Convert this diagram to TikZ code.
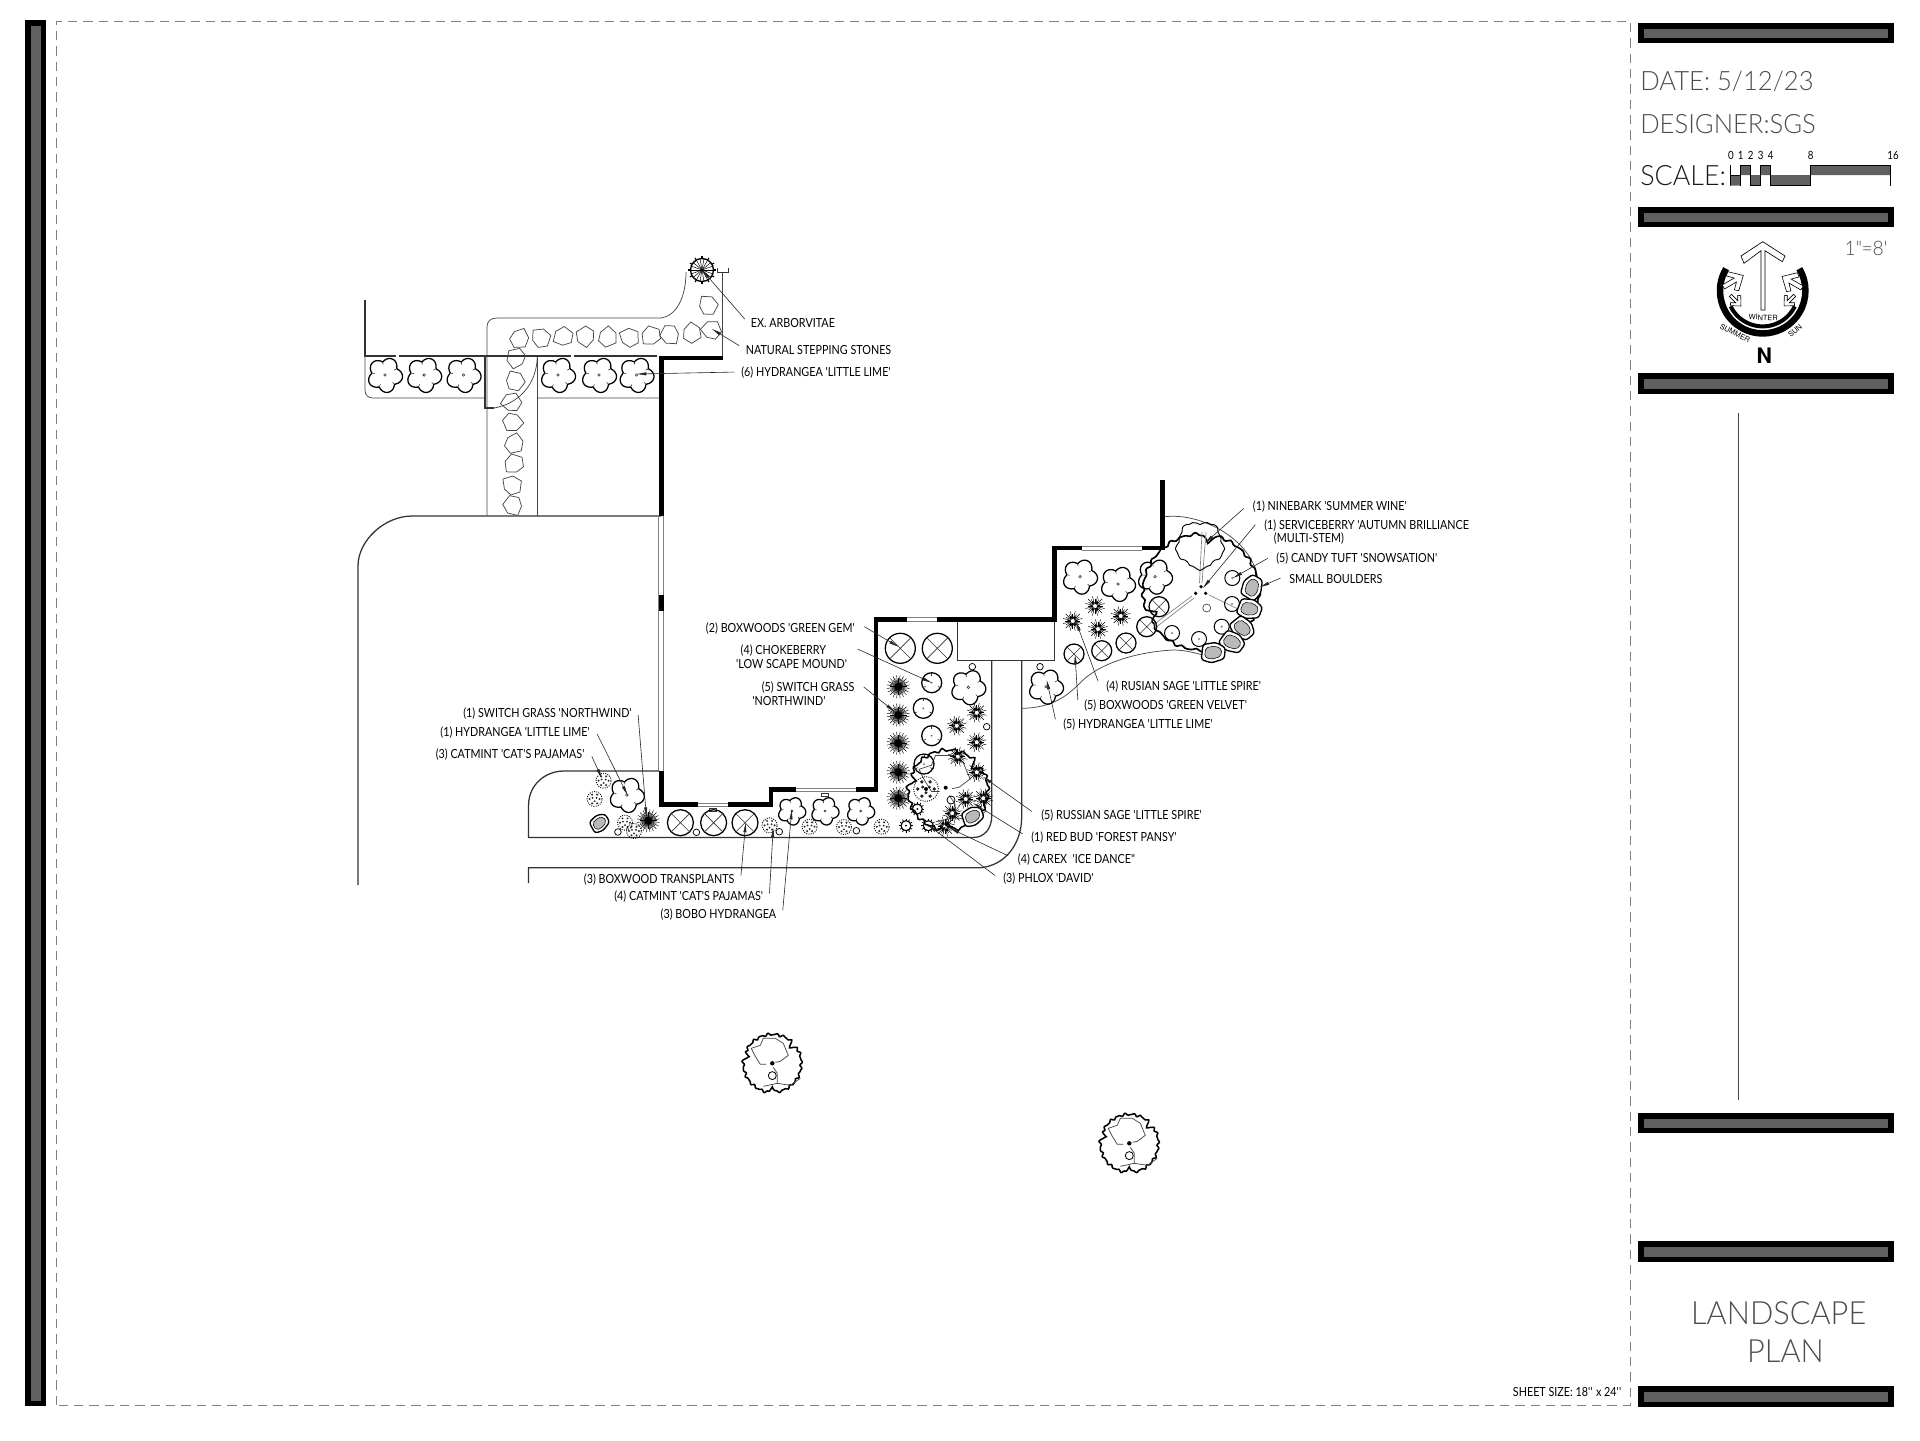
\documentclass[tikz,border=0pt]{standalone}
\usepackage{fontspec}
\usetikzlibrary{arrows.meta}
\newfontfamily\planfont[FakeStretch=0.86]{Lato}
\newfontfamily\titlefont[UprightFont=* Light,FakeStretch=0.96]{Lato}
\newfontfamily\symbolfont{TeX Gyre Heros}
\newcommand{\lblfont}{\planfont\fontsize{9.4pt}{11pt}\selectfont}
\definecolor{barfill}{RGB}{96,96,96}
\definecolor{inkgray}{RGB}{70,70,70}
\tikzset{
  plantline/.style={line width=0.95pt,black},
  thinline/.style={line width=0.45pt,black!80},
  walkline/.style={line width=0.55pt,inkgray},
  edgeline/.style={line width=0.95pt,black!80},
  wallline/.style={line width=3.4pt,black},
  glassline/.style={line width=0.5pt,gray},
  leader/.style={line width=0.45pt,black!85,shorten <=2pt,-{Triangle[length=7pt,width=2.2pt]}},
  stone/.pic={\draw[walkline] (-7,-8) -- (4,-9.5) -- (9,-1) -- (6,9) -- (-4,7.5) -- (-10,1) -- cycle;},
  hydrangea/.pic={
    \draw[plantline] plot[smooth cycle,samples=72,domain=0:355] (\x:{13.2+4.4*abs(cos(2.5*\x+20))});
    \foreach \a in {28,100,172,244,316} \draw[thinline] (\a:13) -- (\a:10.5);
    \draw[thinline] (0,0) circle (1.3);},
  boxwood/.pic={
    \draw[plantline] (0,0) circle (10);
    \draw[thinline] (45:10) -- (225:10) (135:10) -- (315:10);},
  chokeberry/.pic={
    \draw[plantline] (0,0) circle (10);
    \foreach \a in {90,210,330} \draw[thinline] (\a:10) -- (\a:7);
    \fill[black!60] (0,0) circle (1);},
  candytuft/.pic={
    \draw[line width=0.75pt] (0,0) circle (7.5);
    \fill[black!50] (0,0) circle (1.2);},
  switchgrass/.pic={
    \foreach \a [count=\i] in {0,9,...,351} \draw[line width=0.35pt] (0,0) -- (\a:{11.5-3*mod(\i,2)});
    \fill (0,0) circle (4);},
  sage/.pic={
    \foreach \a [count=\i] in {0,15,...,345} \draw[line width=0.35pt] (\a:2) -- (\a:{10-2.5*mod(\i,2)});
    \foreach \a in {0,60,...,300} \fill (\a:4) circle (1.5);
    \fill[white] (0,0) circle (1);},
  catmint/.pic={
    \draw[line width=0.7pt,densely dotted] (0,0) circle (7.5);
    \foreach \a in {0,60,...,300} \fill[black!85] (\a:5) circle (1.1);
    \foreach \a in {30,150,270} \fill[black!85] (\a:2.3) circle (1);},
  phlox/.pic={
    \draw[line width=0.85pt] (0,0) circle (5);
    \foreach \a in {0,30,...,330} \draw[line width=0.6pt] (\a:5) -- (\a:7);
    \fill (0,0) circle (1);},
  boulder/.pic={
    \draw[line width=1pt,fill=white,rounded corners=2] (-12,-6) -- (-2,-10) -- (11,-7) -- (13,4) -- (4,10) -- (-9,9) -- cycle;
    \draw[line width=0.4pt,fill=gray!55,rounded corners=1.5] (-8.5,-3.5) -- (-2,-6.5) -- (7.5,-4.5) -- (9.5,2.5) -- (3,6.5) -- (-6.5,5.5) -- cycle;},
  ringmark/.pic={\draw[line width=0.55pt] (0,0) circle (3.3);},
  shadetree/.pic={
    \draw[line width=1.15pt] plot[samples=180,domain=0:358] (\x:{29+0.9*sin(23*\x)+0.5*sin(37*\x+40)-6*max(0,1-abs(\x-270)/7)-5*max(0,1-abs(\x-164)/8)-6*max(0,1-abs(\x-41)/8)}) -- cycle;
    \draw[walkline] (-6,-1) -- (-12,-1) -- (-17,7) -- (-21,15) -- (-12,18) -- (-9,25) -- (3,25) -- (11,20) -- (16,8) -- (8,2) -- (3,1);
    \draw[walkline] (1,-4) -- (5,-10) -- (5,-20) -- (-9,-23) (5,-20) -- (18,-22) -- (28,-15);},
  sunarrow/.pic={\draw[line width=0.45pt,fill=white] (-15,-2) -- (-3,-2) -- (-8,-7) -- (-5,-9.5) -- (5,0) -- (-5,9.5) -- (-8,7) -- (-3,2) -- (-15,2) -- cycle;},
}
\begin{document}
\begin{tikzpicture}[x=0.75pt,y=0.75pt,yscale=-1,xscale=1]
\useasboundingbox (0,0) rectangle (1920,1440);

% sheet frame and title bars
\draw [dash pattern={on 7pt off 4.5pt},line width=0.55pt,gray] (56.7,1405) -- (56.7,21) -- (1630,21) -- (1630,1405) -- cycle;
\fill (25,20) rectangle (46,1406);
\fill [barfill] (31,26) rectangle (41,1400.7);
\foreach \ya/\yb in {23/43,207/227,373/394,1113/1133,1241/1262,1386/1407}{
  \fill (1638,\ya) rectangle (1893.7,\yb);
  \fill [barfill] (1644,\ya+5.5) rectangle (1888,\yb-5.5);
}
\draw [walkline] (1738,413) -- (1738,1100);

% scale bar
\fill [barfill] (1730.7,175) rectangle (1740.7,185.7) (1740.7,165) rectangle (1750.7,175) (1750.7,175) rectangle (1760.7,185.7) (1760.7,165) rectangle (1770.7,175) (1770.7,175) rectangle (1810.7,185.7) (1810.7,165) rectangle (1890.7,175);
\draw [line width=0.6pt] (1730.7,165) -- (1730.7,185.7) -- (1730.7,175) -- (1740.7,175) (1740.7,185.7) -- (1740.7,165) -- (1750.7,165) -- (1750.7,185.7) -- (1760.7,185.7) -- (1760.7,165) -- (1770.7,165) -- (1770.7,185.7) -- (1810.7,185.7) -- (1810.7,165) -- (1890.7,165) -- (1890.7,185.7);

% north arrow
\coordinate (sunCentre) at (1762.7,290.7);
\draw [line width=4.9pt] ([shift={(211:42.7)}]sunCentre) arc [start angle=211,end angle=-31,radius=42.7];
\draw [line width=3pt] ([shift={(154:35.7)}]sunCentre) arc [start angle=154,end angle=26,radius=35.7];
\draw [line width=0.5pt,fill=white] (1741,256) -- (1762.7,241.7) -- (1785,256) -- (1782.3,261.7) -- (1765,250.7) -- (1765,310) -- (1761,310) -- (1761,250.7) -- (1744,263.3) -- cycle;
\path (1738.3,278.3) pic [rotate=30,scale=1.15] {sunarrow};
\path (1787,279.3) pic [rotate=150,scale=1.15] {sunarrow};
\path (1738.3,303.3) pic [rotate=-45,scale=0.75] {sunarrow};
\path (1786.7,303.3) pic [rotate=225,scale=0.75] {sunarrow};

% walk and drive edges
\draw [walkline] (487,515.7) -- (487,327) .. controls (487,321) and (491,318) .. (497,318) -- (661,318) .. controls (676,316) and (686,298) .. (686,272);
\draw [walkline] (537.3,355.7) -- (537.3,515.7);
\draw [walkline] (722.7,356) -- (722.7,271.7);
\draw [thinline] (717,268) -- (717,272) -- (728,272) -- (728,268);
\draw [walkline] (365,356) -- (365,390) .. controls (365,395) and (368,398) .. (373,398) -- (486,398) (537.3,398) -- (660,398);
\draw [edgeline] (485,356) -- (485,408) -- (494,408);
\draw [walkline] (494,408) .. controls (518,404) and (537,385) .. (537.3,356);
\draw [edgeline] (365,300) -- (365,356) -- (396,356) (399,356) -- (571,356) (574,356) -- (657,356);
\draw [edgeline] (358,885) -- (358,566) .. controls (358,540) and (385,516) .. (412,516) -- (661,516);
\draw [glassline] (658.7,516) -- (658.7,771) (663.7,516) -- (663.7,771);
\fill (658.5,595) rectangle (664,610.7);
\draw [edgeline] (528.6,883) -- (528.6,867.7) -- (980,867.7) .. controls (1004,866) and (1021.7,845) .. (1021.7,816.7) -- (1021.7,660.7);
\draw [edgeline] (659,771) -- (564,771) .. controls (545,771) and (528.6,785) .. (528.6,805) -- (528.6,837.5) -- (973,837.5) .. controls (985,837.5) and (991.7,828) .. (991.7,816) -- (991.7,660.7);
\draw [edgeline] (957.7,622) -- (957.7,660.7) -- (1054.3,660.7) -- (1054.3,622);
\draw [walkline] (1021.7,708.3) .. controls (1053,708) and (1068,695) .. (1080,683) .. controls (1098,664) and (1135,652) .. (1173,650) .. controls (1185,650) and (1195,653) .. (1203,655);
\draw [walkline] (1165,516.7) .. controls (1205,512) and (1262,545) .. (1258,590);

% walls and windows
\draw [wallline] (661.5,516) -- (661.5,358) -- (723,358);
\draw [wallline] (661.5,771) -- (661.5,804.7) -- (698,804.7);
\draw [wallline] (728,804.7) -- (770.8,804.7) -- (770.8,789.7) -- (795.7,789.7);
\draw [wallline] (856.4,789.7) -- (876,789.7) -- (876,619.5) -- (906.7,619.5);
\draw [wallline] (936.7,619.5) -- (1054.3,619.5) -- (1054.3,548.2) -- (1081.7,548.2);
\draw [wallline] (1141.7,548.2) -- (1162.5,548.2) -- (1162.5,480);
\draw [glassline] (698,803) -- (728,803) (698,806.4) -- (728,806.4) (795.7,788) -- (856.4,788) (795.7,791.4) -- (856.4,791.4) (906.7,617.8) -- (936.7,617.8) (906.7,621.2) -- (936.7,621.2) (1081.7,546.5) -- (1141.7,546.5) (1081.7,549.9) -- (1141.7,549.9);
\draw [thinline] (709,808.4) rectangle (716,811) (821.5,793.3) rectangle (828.5,796);

% stepping stones
\foreach \px/\py/\pr in {519.6/338.3/10,540.8/337.7/80,563/336.7/150,585.4/336.7/220,607.7/336.7/30,629.2/337.3/100,650.8/336/170,670/335/250,691.9/332.7/40,711.2/330/120,708/305/70,515.8/358.3/200,515/380.7/60,511.2/402.3/130,513/422.3/300,514.2/443.3/20,513.8/464/170,511.9/485/90,513/505.7/240}{
  \path (\px,\py) pic [rotate=\pr] {stone};
}

% large trees
\path (772.3,1063.3) pic {shadetree};
\path (1129.3,1143.3) pic {shadetree};
\path (948,790) pic [scale=1.38] {shadetree};
\foreach \px/\py in {772.3/1063.3,1129.3/1143.3}{
  \fill (\px,\py) circle (2.2);
  \draw [line width=0.6pt] (\px,\py+12.3) circle (4);
}
\fill (945.7,787.7) circle (2);
\draw [line width=0.6pt] (951,800) circle (4);
\begin{scope}[shift={(1201,592)}]
\draw [line width=1.25pt] plot [samples=180,domain=0:358] (\x:{58+1.1*sin(29*\x)+0.6*sin(41*\x+40)-9*max(0,1-abs(\x-278)/7)-10*max(0,1-abs(\x-155)/7)}) -- cycle;
\end{scope}
\fill (1201,586.7) circle (1.8) (1195.7,593.3) circle (1.8) (1205.7,593.3) circle (1.8);
\draw [glassline] (1199.5,583) -- (1202,532) (1202,583) -- (1206,532) (1192,596) -- (1153,625) (1194,598) -- (1155,628) (1209,595) -- (1240,610);
\draw [thinline] (1206.7,608) circle (4);
% ninebark
\begin{scope}[shift={(1200,545)}]
\draw [line width=0.7pt] plot [smooth cycle,samples=40,domain=0:351] (\x:{23+1.6*sin(5*\x)+0.9*sin(13*\x)});
\end{scope}

% arborvitae
\foreach \a in {0,20,...,340} \draw [line width=0.35pt] (702,270) -- ++(\a:12);
\draw [line width=1pt] (702,270) circle (11.5);
\foreach \a in {0,30,...,330} \draw [line width=0.8pt] (702,270) ++(\a:11.5) -- ++(\a:2.5);
\fill (702,270) circle (1.5);

% hydrangeas
\foreach \px/\py in {385/375,424.2/375,463.5/375,558/375,599/375,636.5/375,626.8/795,968.3/687.3,1080/576.7,1118/584,1155/576.7,1046/686.7}{
  \path (\px,\py) pic {hydrangea};
}
\foreach \px/\py in {791.8/811,825/811,860.7/811}{
  \path (\px,\py) pic [scale=0.8] {hydrangea};
}
% boxwoods
\foreach \px/\py in {680.4/822.7,713.6/822.7,745/822.7}{
  \path (\px,\py) pic [scale=1.3] {boxwood};
}
\foreach \px/\py in {900.3/648.3,937.3/648.3}{
  \path (\px,\py) pic [scale=1.5] {boxwood};
}
\foreach \px/\py in {1159/606.7,1146.7/626.7,1126/643,1101.7/650.7,1074/654}{
  \path (\px,\py) pic {boxwood};
}
% chokeberry
\foreach \px/\py in {931.7/682.7,923.3/708.3,931.7/735.7,924/764}{
  \path (\px,\py) pic {chokeberry};
}
% switch grass
\foreach \px/\py in {898.3/686.7,898.3/715,898.3/743.3,898.3/772.3,898.3/798.3,648.2/820.7}{
  \path (\px,\py) pic {switchgrass};
}
% sage
\foreach \px/\py in {976.7/712.7,956.7/725.7,976.7/742.3,957.7/756.7,976.7/772.3,983.3/798.3,965.7/799,952.3/813.3,945/826.7,1095/606,1120.7/616,1098/629,1072.7/621}{
  \path (\px,\py) pic {sage};
}
% catmint
\foreach \px/\py in {603.6/780.7,594.6/799,625/822.7,634/831,769.6/825.3,809.6/826.7,844/827,881.7/826.7}{
  \path (\px,\py) pic {catmint};
}
\path (926,789) pic [scale=1.65] {catmint};
\fill (926,789) circle (2);
% phlox
\foreach \px/\py in {906/825.7,928.3/825.7,917.3/809}{
  \path (\px,\py) pic {phlox};
}
% candy tuft
\foreach \px/\py in {1232.3/578,1232/604,1221.7/626.7,1199/639,1172/633}{
  \path (\px,\py) pic {candytuft};
}
% boulders
\path (599.3,823.3) pic [rotate=40,scale=0.8] {boulder};
\path (972.3,816.7) pic [rotate=30,scale=0.9] {boulder};
\foreach \px/\py/\pr in {1252/588/70,1249/609/-10,1242/628/-40,1231.7/642/-25,1212.7/652.7/5}{
  \path (\px,\py) pic [rotate=\pr] {boulder};
}
% small rings
\foreach \px/\py in {617.9/832,696.4/832.3,779.3/831.7,856.4/830.7,972.3/666.7,1040/666.7,986.7/726.7}{
  \path (\px,\py) pic {ringmark};
}

% Text Node
\draw (1640,90) node (dateLabel) [anchor=base west,inner sep=0pt,text=black!70] {\titlefont\fontsize{20pt}{22pt}\selectfont DATE: 5/12/23};
\draw (1640,133) node (designerLabel) [anchor=base west,inner sep=0pt,text=black!70] {\titlefont\fontsize{20pt}{22pt}\selectfont DESIGNER:SGS};
\draw (1640,185) node (scaleLabel) [anchor=base west,inner sep=0pt,text=black!90] {\titlefont\fontsize{21pt}{23pt}\selectfont SCALE:};
\foreach \nx/\nv in {1731/0,1740.7/1,1750.7/2,1760.7/3,1770.7/4,1810.7/8,1893/16}{
  \draw (\nx,159) node (scaleNum\nv) [anchor=base,inner sep=0pt] {\planfont\fontsize{8.5pt}{9pt}\selectfont \nv};
}
\draw (1888,255) node (ratioLabel) [anchor=base east,inner sep=0pt,text=black!70] {\titlefont\fontsize{15pt}{16pt}\selectfont 1\textquotesingle\kern-1pt\textquotesingle\kern-0.5pt=8\textquotesingle};
\draw (1763.3,317.7) node (winterLabel) [inner sep=0pt,rotate=-3] {\symbolfont\fontsize{5.5pt}{6pt}\selectfont WINTER};
\draw (1735,333.3) node (summerLabel) [inner sep=0pt,rotate=-27] {\symbolfont\fontsize{5.5pt}{6pt}\selectfont SUMMER};
\draw (1795,330.7) node (sunLabel) [inner sep=0pt,rotate=40] {\symbolfont\fontsize{5.5pt}{6pt}\selectfont SUN};
\draw (1764.3,356) node (northLabel) [inner sep=0pt] {\symbolfont\bfseries\fontsize{16pt}{17pt}\selectfont N};
\draw (1778.7,1324) node (landscapeLabel) [anchor=base,inner sep=0pt,text=black!70] {\titlefont\fontsize{24pt}{26pt}\selectfont LANDSCAPE};
\draw (1785.5,1362) node (planLabel) [anchor=base,inner sep=0pt,text=black!70] {\titlefont\fontsize{24pt}{26pt}\selectfont PLAN};
\draw (1622,1396.7) node (sheetLabel) [anchor=base east,inner sep=0pt,font=\lblfont] {SHEET SIZE: 18\textquotesingle\textquotesingle{} x 24\textquotesingle\textquotesingle};

\draw (749.5,323) node (arborLabel) [anchor=west,inner sep=0.75pt,font=\lblfont] {EX. ARBORVITAE};
\draw (744.5,350) node (stonesLabel) [anchor=west,inner sep=0.75pt,font=\lblfont] {NATURAL STEPPING STONES};
\draw (740,373) node (topHydLabel) [anchor=west,inner sep=0.75pt,font=\lblfont] {(6) HYDRANGEA 'LITTLE LIME'};
\draw (1251.7,506.7) node (ninebarkLabel) [anchor=west,inner sep=0.75pt,font=\lblfont] {(1) NINEBARK 'SUMMER WINE'};
\draw (1263,525.7) node (serviceLabel) [anchor=west,inner sep=0.75pt,font=\lblfont] {(1) SERVICEBERRY 'AUTUMN BRILLIANCE};
\draw (1272.7,539) node (multiLabel) [anchor=west,inner sep=0.75pt,font=\lblfont] {(MULTI-STEM)};
\draw (1275,559) node (candyLabel) [anchor=west,inner sep=0.75pt,font=\lblfont] {(5) CANDY TUFT 'SNOWSATION'};
\draw (1288,579) node (boulderLabel) [anchor=west,inner sep=0.75pt,font=\lblfont] {SMALL BOULDERS};
\draw (1105,686.7) node (rusianLabel) [anchor=west,inner sep=0.75pt,font=\lblfont] {(4) RUSIAN SAGE 'LITTLE SPIRE'};
\draw (1083,705.7) node (velvetLabel) [anchor=west,inner sep=0.75pt,font=\lblfont] {(5) BOXWOODS 'GREEN VELVET'};
\draw (1062,725) node (sideHydLabel) [anchor=west,inner sep=0.75pt,font=\lblfont] {(5) HYDRANGEA 'LITTLE LIME'};
\draw (856,628.3) node (gemLabel) [anchor=east,inner sep=0.75pt,font=\lblfont] {(2) BOXWOODS 'GREEN GEM'};
\draw (827.3,651) node (chokeLabel) [anchor=east,inner sep=0.75pt,font=\lblfont] {(4) CHOKEBERRY};
\draw (848.3,664.3) node (moundLabel) [anchor=east,inner sep=0.75pt,font=\lblfont] {'LOW SCAPE MOUND'};
\draw (855.7,687.3) node (grassLabel) [anchor=east,inner sep=0.75pt,font=\lblfont] {(5) SWITCH GRASS};
\draw (826.7,700.7) node (northwindLabel) [anchor=east,inner sep=0.75pt,font=\lblfont] {'NORTHWIND'};
\draw (632.9,713.3) node (oneGrassLabel) [anchor=east,inner sep=0.75pt,font=\lblfont] {(1) SWITCH GRASS 'NORTHWIND'};
\draw (591,732.7) node (oneHydLabel) [anchor=east,inner sep=0.75pt,font=\lblfont] {(1) HYDRANGEA 'LITTLE LIME'};
\draw (585.7,755) node (threeCatLabel) [anchor=east,inner sep=0.75pt,font=\lblfont] {(3) CATMINT 'CAT'S PAJAMAS'};
\draw (735.7,880) node (transplantLabel) [anchor=east,inner sep=0.75pt,font=\lblfont] {(3) BOXWOOD TRANSPLANTS};
\draw (764.3,897) node (fourCatLabel) [anchor=east,inner sep=0.75pt,font=\lblfont] {(4) CATMINT 'CAT'S PAJAMAS'};
\draw (777.5,915) node (boboLabel) [anchor=east,inner sep=0.75pt,font=\lblfont] {(3) BOBO HYDRANGEA};
\draw (1040,816) node (russianLabel) [anchor=west,inner sep=0.75pt,font=\lblfont] {(5) RUSSIAN SAGE 'LITTLE SPIRE'};
\draw (1030,837.3) node (redbudLabel) [anchor=west,inner sep=0.75pt,font=\lblfont] {(1) RED BUD 'FOREST PANSY'};
\draw (1016.7,860) node (carexLabel) [anchor=west,inner sep=0.75pt,font=\lblfont] {(4) CAREX \ 'ICE DANCE"};
\draw (1002,879) node (phloxLabel) [anchor=west,inner sep=0.75pt,font=\lblfont] {(3) PHLOX 'DAVID'};

% leader ends
\coordinate (arborEnd) at (702,270);
\coordinate (stonesEnd) at (712,329);
\coordinate (topHydEnd) at (637,374);
\coordinate (ninebarkEnd) at (1205,543);
\coordinate (serviceEnd) at (1203,588);
\coordinate (candyEnd) at (1233,578);
\coordinate (boulderEnd) at (1260,587);
\coordinate (rusianEnd) at (1076,621.7);
\coordinate (velvetEnd) at (1075,655);
\coordinate (sideHydEnd) at (1046.7,680);
\coordinate (gemEnd) at (898.3,646.7);
\coordinate (chokeEnd) at (931.7,682.7);
\coordinate (grassEnd) at (894.6,711.7);
\coordinate (oneGrassEnd) at (646.4,816.7);
\coordinate (oneHydEnd) at (627.5,795);
\coordinate (threeCatEnd) at (601.8,778);
\coordinate (transplantEnd) at (745.7,823);
\coordinate (fourCatEnd) at (773.2,828);
\coordinate (boboEnd) at (791.8,810);
\coordinate (russianEnd) at (983,776.7);
\coordinate (redbudEnd) at (973,803);
\coordinate (carexEnd) at (950,828.3);
\coordinate (phloxEnd) at (928,825);

\draw [leader] (arborLabel.west) ++(-3,-2) -- (arborEnd);
\draw [leader] (stonesLabel.west) ++(-3,-3) -- (stonesEnd);
\draw [leader] (topHydLabel.west) ++(-3,-1) -- (topHydEnd);
\draw [leader] (ninebarkLabel.west) ++(-6,0) -- (ninebarkEnd);
\draw [leader] (serviceLabel.west) ++(-6,-3) -- (serviceEnd);
\draw [leader] (candyLabel.west) ++(-5,-2) -- (candyEnd);
\draw [leader] (boulderLabel.west) ++(-5,-2) -- (boulderEnd);
\draw [leader] (rusianLabel.west) ++(-6,-3) -- (rusianEnd);
\draw [leader] (velvetLabel.west) ++(-5,-3) -- (velvetEnd);
\draw [leader] (sideHydLabel.west) ++(-6,-3) -- (sideHydEnd);
\draw [leader] (gemLabel.east) ++(6,-3) -- (gemEnd);
\draw [leader] (chokeLabel.east) ++(28,-3) -- (chokeEnd);
\draw [leader] (grassLabel.east) ++(6,-2) -- (grassEnd);
\draw [leader] (oneGrassLabel.east) ++(5,-1) -- (oneGrassEnd);
\draw [leader] (oneHydLabel.east) ++(5,-1) -- (oneHydEnd);
\draw [leader] (threeCatLabel.east) ++(5,-1) -- (threeCatEnd);
\draw [leader] (transplantLabel.east) ++(5,-2) -- (transplantEnd);
\draw [leader] (fourCatLabel.east) ++(5,-1) -- (fourCatEnd);
\draw [leader] (boboLabel.east) ++(5,-2) -- (boboEnd);
\draw [leader] (russianLabel.west) ++(-6,-3) -- (russianEnd);
\draw [leader] (redbudLabel.west) ++(-5,-2) -- (redbudEnd);
\draw [leader] (carexLabel.west) ++(-6,-3) -- (carexEnd);
\draw [leader] (phloxLabel.west) ++(-5,-2) -- (phloxEnd);

\end{tikzpicture}
\end{document}
